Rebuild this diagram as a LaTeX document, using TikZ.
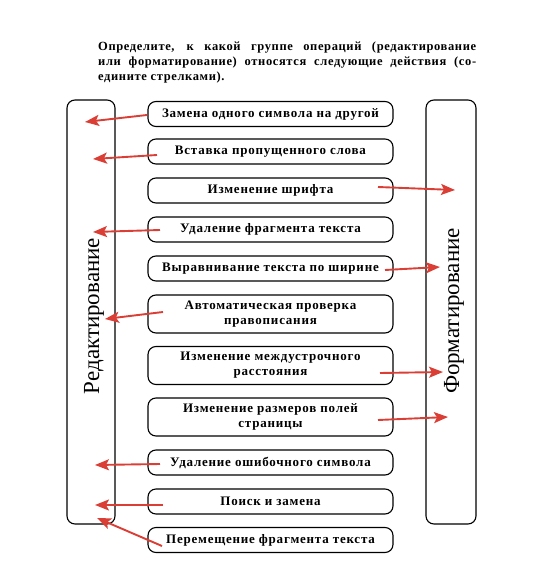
\documentclass[tikz,border=0pt]{standalone}
\usepackage{fontspec}
\setmainfont{Liberation Serif}
\usetikzlibrary{arrows.meta}
\definecolor{arrred}{RGB}{218,62,52}
\tikzset{
  opbox/.style={draw=black, line width=1.1pt, rounded corners=8pt, minimum width=245pt, align=center, inner sep=0pt, font=\fontsize{13}{15}\selectfont\bfseries\addfontfeatures{LetterSpace=6}},
  onebox/.style={opbox, minimum height=25pt},
  twobox/.style={opbox, minimum height=38pt},
  groupbox/.style={draw=black, line width=1.1pt, rounded corners=8pt},
  grouplabel/.style={rotate=90, font=\fontsize{23}{27}\selectfont, inner sep=0pt},
  arr/.style={draw=arrred, line width=1.9pt, -{Stealth[length=14pt,width=11pt,inset=3pt]}}
}
\begin{document}
\begin{tikzpicture}[x=1pt,y=-1pt]
\useasboundingbox (0,0) rectangle (543,585);
\node[anchor=north west, inner sep=0pt, align=justify, text width=378pt, font=\fontsize{12.5}{15}\selectfont\bfseries\addfontfeatures{LetterSpace=5}] (head) at (98,42)
 {Определите, к какой группе операций (редактирование\linebreak или форматирование) относятся следующие действия (со-\linebreak едините стрелками).};
% group boxes
\draw[groupbox] (67,100) rectangle (115,524);
\draw[groupbox] (426,100) rectangle (476,524);
\node[grouplabel] (red) at (94,316) {Редактирование};
\node[grouplabel] (form) at (454,311) {Форматирование};
% operation boxes
\node[onebox] (b1) at (270.5,114) {Замена одного символа на другой};
\node[onebox] (b2) at (270.5,151.5) {Вставка пропущенного слова};
\node[onebox] (b3) at (270.5,190.5) {Изменение шрифта};
\node[onebox] (b4) at (270.5,229.5) {Удаление фрагмента текста};
\node[onebox] (b5) at (270.5,268.5) {Выравнивание текста по ширине};
\node[twobox] (b6) at (270.5,314) {Автоматическая проверка\\правописания};
\node[twobox] (b7) at (270.5,365.5) {Изменение междустрочного\\расстояния};
\node[twobox] (b8) at (270.5,417) {Изменение размеров полей\\страницы};
\node[onebox] (b9) at (270.5,462.5) {Удаление ошибочного символа};
\node[onebox] (b10) at (270.5,501.5) {Поиск и замена};
\node[onebox] (b11) at (270.5,540) {Перемещение фрагмента текста};
% arrow start and end points
\coordinate (s1) at (147,115); \coordinate (t1) at (85,122);
\coordinate (s2) at (157,155); \coordinate (t2) at (93,159);
\coordinate (s3) at (378,187); \coordinate (t3) at (455,190);
\coordinate (s4) at (160,230); \coordinate (t4) at (93,232);
\coordinate (s5) at (385,270); \coordinate (t5) at (440,267);
\coordinate (s6) at (163,312); \coordinate (t6) at (105,319);
\coordinate (s7) at (380,373); \coordinate (t7) at (443,372);
\coordinate (s8) at (378,420); \coordinate (t8) at (448,417);
\coordinate (s9) at (160,464); \coordinate (t9) at (95,465);
\coordinate (s10) at (163,505); \coordinate (t10) at (95,505);
\coordinate (s11) at (162,546); \coordinate (t11) at (97,518);
\foreach \i in {1,...,11} { \draw[arr] (s\i) -- (t\i); }
\end{tikzpicture}
\end{document}
